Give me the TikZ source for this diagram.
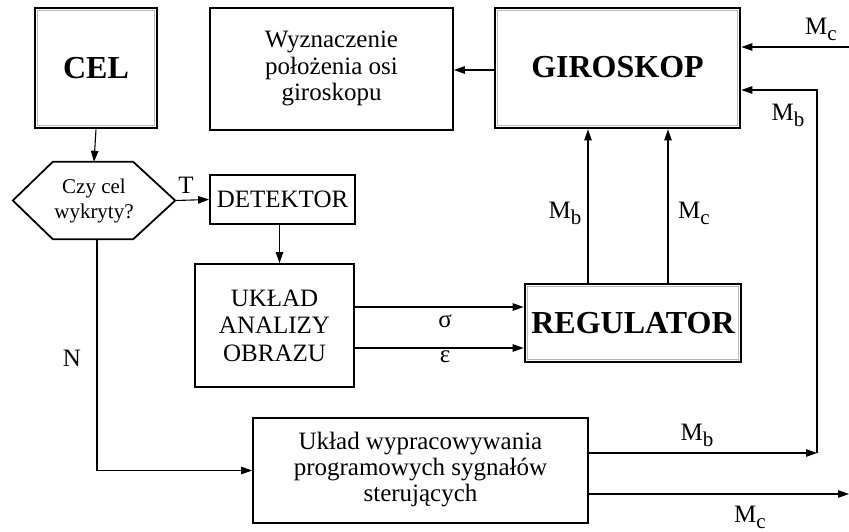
\documentclass[tikz,border=0pt]{standalone}
\usepackage{fontspec}
\setmainfont{Liberation Serif}
\usetikzlibrary{arrows.meta,calc}
\newcommand{\Msub}[1]{M\raisebox{-6pt}{\fontsize{21}{21}\selectfont #1}}
\begin{document}
\begin{tikzpicture}[x=1pt,y=-1pt,
  box/.style={draw, line width=1.8pt, inner sep=0pt, align=center,
    font=\fontsize{25}{26.5}\selectfont},
  dbox/.style={draw, line width=2.8pt, inner sep=0pt, align=center,
    font=\fontsize{32}{34}\selectfont\bfseries},
  conn/.style={line width=1.1pt, -{Triangle[length=11pt,width=7.5pt]}},
  lbl/.style={inner sep=0pt, font=\fontsize{25}{26}\selectfont},
  inner/.style={draw=gray!55, line width=0.9pt}
]
\useasboundingbox (0,0) rectangle (849,531);

% nodes
\node[dbox, minimum width=122pt, minimum height=120pt] (cel) at (96,68) {CEL};
\node[box, minimum width=243pt, minimum height=122pt] (wyz) at (331.5,69)
  {\begin{tabular}{@{}c@{}}Wyznaczenie\\położenia osi\\giroskopu\end{tabular}};
\node[dbox, minimum width=245pt, minimum height=120pt] (giro) at (617.5,68) {\raisebox{3pt}{GIROSKOP}};
\node[inner sep=0pt, minimum width=162pt, minimum height=77pt, align=center,
  font=\fontsize{21}{25}\selectfont] (hex) at (94,200.5) {Czy cel\\wykryty?};
\node[box, minimum width=145pt, minimum height=49pt] (det) at (282.5,199.5) {DETEKTOR};
\node[box, minimum width=159pt, minimum height=123pt, font=\fontsize{25}{27.5}\selectfont] (ukl) at (274.5,325.5)
  {UKŁAD\\ANALIZY\\OBRAZU};
\node[dbox, minimum width=216pt, minimum height=78pt] (reg) at (633,323) {REGULATOR};
\node[box, minimum width=335pt, minimum height=105pt, font=\fontsize{25}{26}\selectfont] (prog) at (420.5,470.5)
  {\begin{tabular}{@{}c@{}}Układ wypracowywania\\programowych sygnałów\\sterujących\end{tabular}};

% hexagon outline
\draw[line width=1.8pt] (hex.west) -- ([xshift=40pt]hex.north west) -- ([xshift=-42pt]hex.north east)
  -- (hex.east) -- ([xshift=-42pt]hex.south east) -- ([xshift=40pt]hex.south west) -- cycle;

% inner lines of double boxes
\foreach \n in {cel,giro,reg}{
  \draw[inner] ([shift={(4pt,-4pt)}]\n.north west) rectangle ([shift={(-4pt,4pt)}]\n.south east);
}

% coordinates for free ends
\coordinate (mcin) at (849,47);
\coordinate (corner) at (817,453);
\coordinate (fbtop) at (817,90);
\coordinate (mcout) at (849,494);

% connectors
\draw[conn] (cel.south) -- (hex.north);
\draw[conn] (hex.east) -- (det.west);
\draw[conn] ([xshift=-3pt]det.south) -- ([xshift=-3pt]det.south |- ukl.north);
\draw[conn] ([yshift=18.5pt]ukl.east) -- ([yshift=18.5pt]ukl.east -| reg.west);
\draw[conn] ([yshift=-22.5pt]ukl.east) -- ([yshift=-22.5pt]ukl.east -| reg.west);
\draw[conn] ([xshift=-45pt]reg.north) -- ([xshift=-45pt]reg.north |- giro.south);
\draw[conn] ([xshift=35pt]reg.north) -- ([xshift=35pt]reg.north |- giro.south);
\draw[conn] ([yshift=-2pt]giro.west) -- ([yshift=-2pt]giro.west -| wyz.east);
\draw[conn] (mcin) -- (mcin -| giro.east);
\draw[conn] ([xshift=3pt]hex.south) |- (prog.west);
\draw[conn] ([yshift=17.5pt]prog.east) -- (corner);
\draw[conn] (corner) -- (fbtop) -- (fbtop -| giro.east);
\draw[conn] ([yshift=-23.5pt]prog.east) -- (mcout);

% labels
\node[lbl] (lT) at (186,185) {T};
\node[lbl] (lN) at (72,358) {N};
\node[lbl] (lsig) at (445,321) {σ};
\node[lbl] (leps) at (445,357) {ε};
\node[lbl] (lmb1) at (565,213) {\Msub{b}};
\node[lbl] (lmc1) at (694,213) {\Msub{c}};
\node[lbl] (lmc2) at (821,29) {\Msub{c}};
\node[lbl] (lmb2) at (788,115) {\Msub{b}};
\node[lbl] (lmb3) at (697,435) {\Msub{b}};
\node[lbl] (lmc3) at (750,517) {\Msub{c}};
\end{tikzpicture}
\end{document}
